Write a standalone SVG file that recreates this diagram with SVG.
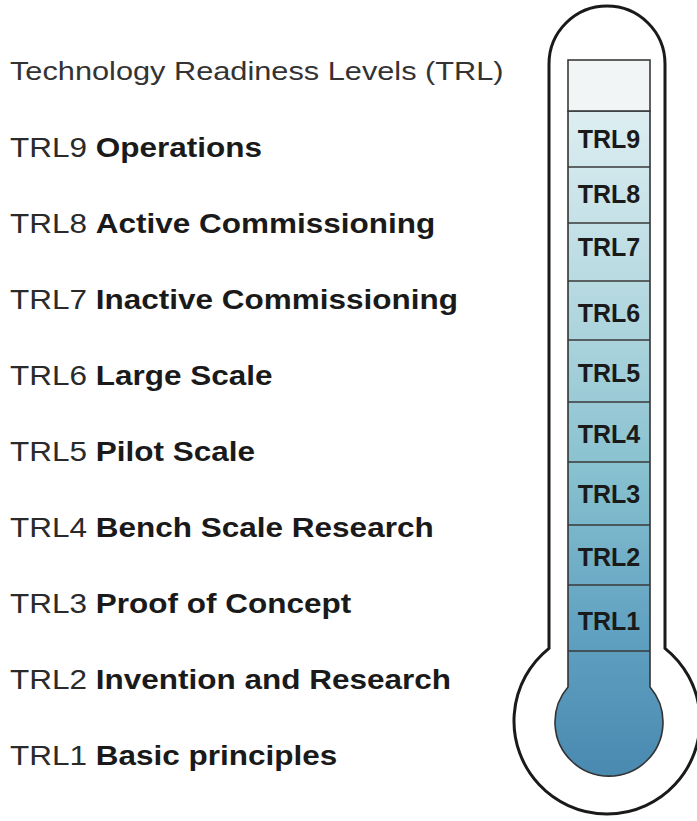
<svg xmlns="http://www.w3.org/2000/svg" width="697" height="821" viewBox="0 0 697 821">
  <defs>
    <linearGradient id="fluid" gradientUnits="userSpaceOnUse" x1="0" y1="111" x2="0" y2="776">
      <stop offset="0" stop-color="#ddeef1"/>
      <stop offset="0.3" stop-color="#b2d7df"/>
      <stop offset="0.55" stop-color="#86c0cf"/>
      <stop offset="0.8" stop-color="#5e9fc0"/>
      <stop offset="1" stop-color="#4a89b0"/>
    </linearGradient>
  </defs>
  <style>
    .lbl { font-family: "Liberation Sans", Arial, sans-serif; font-size: 28px; fill: #2a2a2a; }
    .title { font-family: "Liberation Sans", Arial, sans-serif; font-size: 26.5px; fill: #333; }
    .b { font-weight: bold; fill: #1a1a1a; }
    .seg { font-family: "Liberation Sans", Arial, sans-serif; font-size: 25px; font-weight: bold; fill: #1a1a1a; text-anchor: middle; }
    .div { stroke: #3a3a3a; stroke-width: 1.6; fill: none; }
  </style>
  <rect width="697" height="821" fill="#ffffff"/>

  <g id="labels">
    <g transform="translate(10,0) scale(1.16,1)">
      <text class="title" x="0" y="80">Technology Readiness Levels (TRL)</text>
    </g>
    <g transform="translate(10,0) scale(1.125,1)">
      <text class="lbl" x="0" y="157">TRL9 <tspan class="b">Operations</tspan></text>
      <text class="lbl" x="0" y="233">TRL8 <tspan class="b">Active Commissioning</tspan></text>
      <text class="lbl" x="0" y="309">TRL7 <tspan class="b">Inactive Commissioning</tspan></text>
      <text class="lbl" x="0" y="385">TRL6 <tspan class="b">Large Scale</tspan></text>
      <text class="lbl" x="0" y="461">TRL5 <tspan class="b">Pilot Scale</tspan></text>
      <text class="lbl" x="0" y="537">TRL4 <tspan class="b">Bench Scale Research</tspan></text>
      <text class="lbl" x="0" y="613">TRL3 <tspan class="b">Proof of Concept</tspan></text>
      <text class="lbl" x="0" y="689">TRL2 <tspan class="b">Invention and Research</tspan></text>
      <text class="lbl" x="0" y="765">TRL1 <tspan class="b">Basic principles</tspan></text>
    </g>
  </g>

  <g id="thermometer">
    <path d="M549,648.3 L549,64 A58,58 0 0 1 665,64 L665,648.3 A93,93 0 1 1 549,648.3 Z" fill="#ffffff" stroke="#1a1a1a" stroke-width="3"/>
    <path d="M568,111 H650 V687 A54,54 0 1 1 568,687 Z" fill="url(#fluid)" stroke="#333" stroke-width="1.6"/>
    <rect x="568" y="60" width="82" height="51" fill="#f1f5f6" stroke="#3a3a3a" stroke-width="1.6"/>
    <path class="div" d="M568,167 H650 M568,223 H650 M568,281 H650 M568,340 H650 M568,402 H650 M568,462 H650 M568,525 H650 M568,585 H650 M568,651 H650"/>
    <text class="seg" x="609" y="148">TRL9</text>
    <text class="seg" x="609" y="203">TRL8</text>
    <text class="seg" x="609" y="256">TRL7</text>
    <text class="seg" x="609" y="322">TRL6</text>
    <text class="seg" x="609" y="382">TRL5</text>
    <text class="seg" x="609" y="443">TRL4</text>
    <text class="seg" x="609" y="503">TRL3</text>
    <text class="seg" x="609" y="566">TRL2</text>
    <text class="seg" x="609" y="630">TRL1</text>
  </g>
</svg>
